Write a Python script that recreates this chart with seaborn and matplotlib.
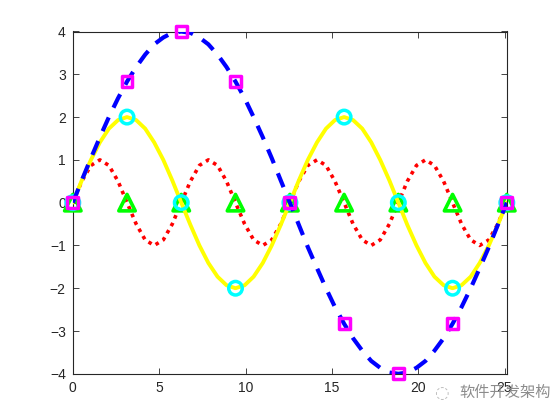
import numpy as np
import pandas as pd
import matplotlib
matplotlib.use('Agg')
import matplotlib.pyplot as plt
import seaborn as sns

# sample points along x (steps of pi/6, 0 .. 8*pi)
x_line = [0.00, 0.52, 1.05, 1.57, 2.09, 2.62, 3.14, 3.67, 4.19, 4.71, 5.24, 5.76,
          6.28, 6.81, 7.33, 7.85, 8.38, 8.90, 9.42, 9.95, 10.47, 11.00, 11.52, 12.04,
          12.57, 13.09, 13.61, 14.14, 14.66, 15.18, 15.71, 16.23, 16.76, 17.28, 17.80, 18.33,
          18.85, 19.37, 19.90, 20.42, 20.94, 21.47, 21.99, 22.51, 23.04, 23.56, 24.09, 24.61,
          25.13]

red_y = [0, 0.5, 0.87, 1, 0.87, 0.5, 0, -0.5, -0.87, -1, -0.87, -0.5,
         0, 0.5, 0.87, 1, 0.87, 0.5, 0, -0.5, -0.87, -1, -0.87, -0.5,
         0, 0.5, 0.87, 1, 0.87, 0.5, 0, -0.5, -0.87, -1, -0.87, -0.5,
         0, 0.5, 0.87, 1, 0.87, 0.5, 0, -0.5, -0.87, -1, -0.87, -0.5,
         0]

yellow_y = [0, 0.52, 1, 1.41, 1.73, 1.93, 2, 1.93, 1.73, 1.41, 1, 0.52,
            0, -0.52, -1, -1.41, -1.73, -1.93, -2, -1.93, -1.73, -1.41, -1, -0.52,
            0, 0.52, 1, 1.41, 1.73, 1.93, 2, 1.93, 1.73, 1.41, 1, 0.52,
            0, -0.52, -1, -1.41, -1.73, -1.93, -2, -1.93, -1.73, -1.41, -1, -0.52,
            0]

blue_y = [0, 0.52, 1.04, 1.53, 2, 2.44, 2.83, 3.17, 3.46, 3.70, 3.86, 3.97,
          4, 3.97, 3.86, 3.70, 3.46, 3.17, 2.83, 2.44, 2, 1.53, 1.04, 0.52,
          0, -0.52, -1.04, -1.53, -2, -2.44, -2.83, -3.17, -3.46, -3.70, -3.86, -3.97,
          -4, -3.97, -3.86, -3.70, -3.46, -3.17, -2.83, -2.44, -2, -1.53, -1.04, -0.52,
          0]

# marker points (multiples of pi)
x_mark = [0, 3.14, 6.28, 9.42, 12.57, 15.71, 18.85, 21.99, 25.13]
tri_y = [0, 0, 0, 0, 0, 0, 0, 0, 0]
circ_y = [0, 2, 0, -2, 0, 2, 0, -2, 0]
sq_y = [0, 2.83, 4, 2.83, 0, -2.83, -4, -2.83, 0]

x_ticks = [0, 5, 10, 15, 20, 25]
y_ticks = [-4, -3, -2, -1, 0, 1, 2, 3, 4]

sns.set_style('ticks')
plt.rcParams['font.family'] = ['Liberation Sans', 'DejaVu Sans']

fig = plt.figure(figsize=(5.6, 4.2), dpi=100)
ax = fig.add_axes([0.13, 0.11, 0.775, 0.815])

sns.lineplot(x=x_line, y=red_y, ax=ax, color='red', linewidth=2.6,
             sort=False, zorder=2)
ax.lines[-1].set_linestyle((0, (1, 1.3)))
sns.scatterplot(x=x_mark, y=tri_y, ax=ax, marker='^', s=140, facecolor='none',
                edgecolor=(0, 1, 0), linewidth=2.6, zorder=3, clip_on=False)

sns.lineplot(x=x_line, y=yellow_y, ax=ax, color='yellow', linewidth=2.8,
             sort=False, zorder=4)
sns.scatterplot(x=x_mark, y=circ_y, ax=ax, marker='o', s=95, facecolor='none',
                edgecolor='cyan', linewidth=2.5, zorder=5, clip_on=False)

sns.lineplot(x=x_line, y=blue_y, ax=ax, color='blue', linewidth=3.0,
             sort=False, zorder=6)
ax.lines[-1].set_linestyle((0, (3.6, 2.6)))
sns.scatterplot(x=x_mark, y=sq_y, ax=ax, marker='s', s=62, facecolor='none',
                edgecolor='magenta', linewidth=2.5, zorder=7, clip_on=False)

ax.set_xlim(0, 25.13)
ax.set_ylim(-4, 4)
ax.set_xticks(x_ticks)
ax.set_yticks(y_ticks)
ax.tick_params(direction='in', top=True, right=True, length=4, width=0.6,
               labelsize=10, colors='#262626', pad=5)
for sp in ax.spines.values():
    sp.set_visible(True)
    sp.set_linewidth(0.8)
    sp.set_color('#262626')

# watermark
fig.text(0.82, 0.065, '软件开发架构', fontsize=11, color='#8c8c8c',
         family=['Noto Sans CJK SC', 'DejaVu Sans'], va='center', ha='left')
fig.text(0.775, 0.065, '◌', fontsize=12, color='#bbbbbb', va='center', ha='left',
         family=['DejaVu Sans'])

fig.savefig('out.png', dpi=100)
